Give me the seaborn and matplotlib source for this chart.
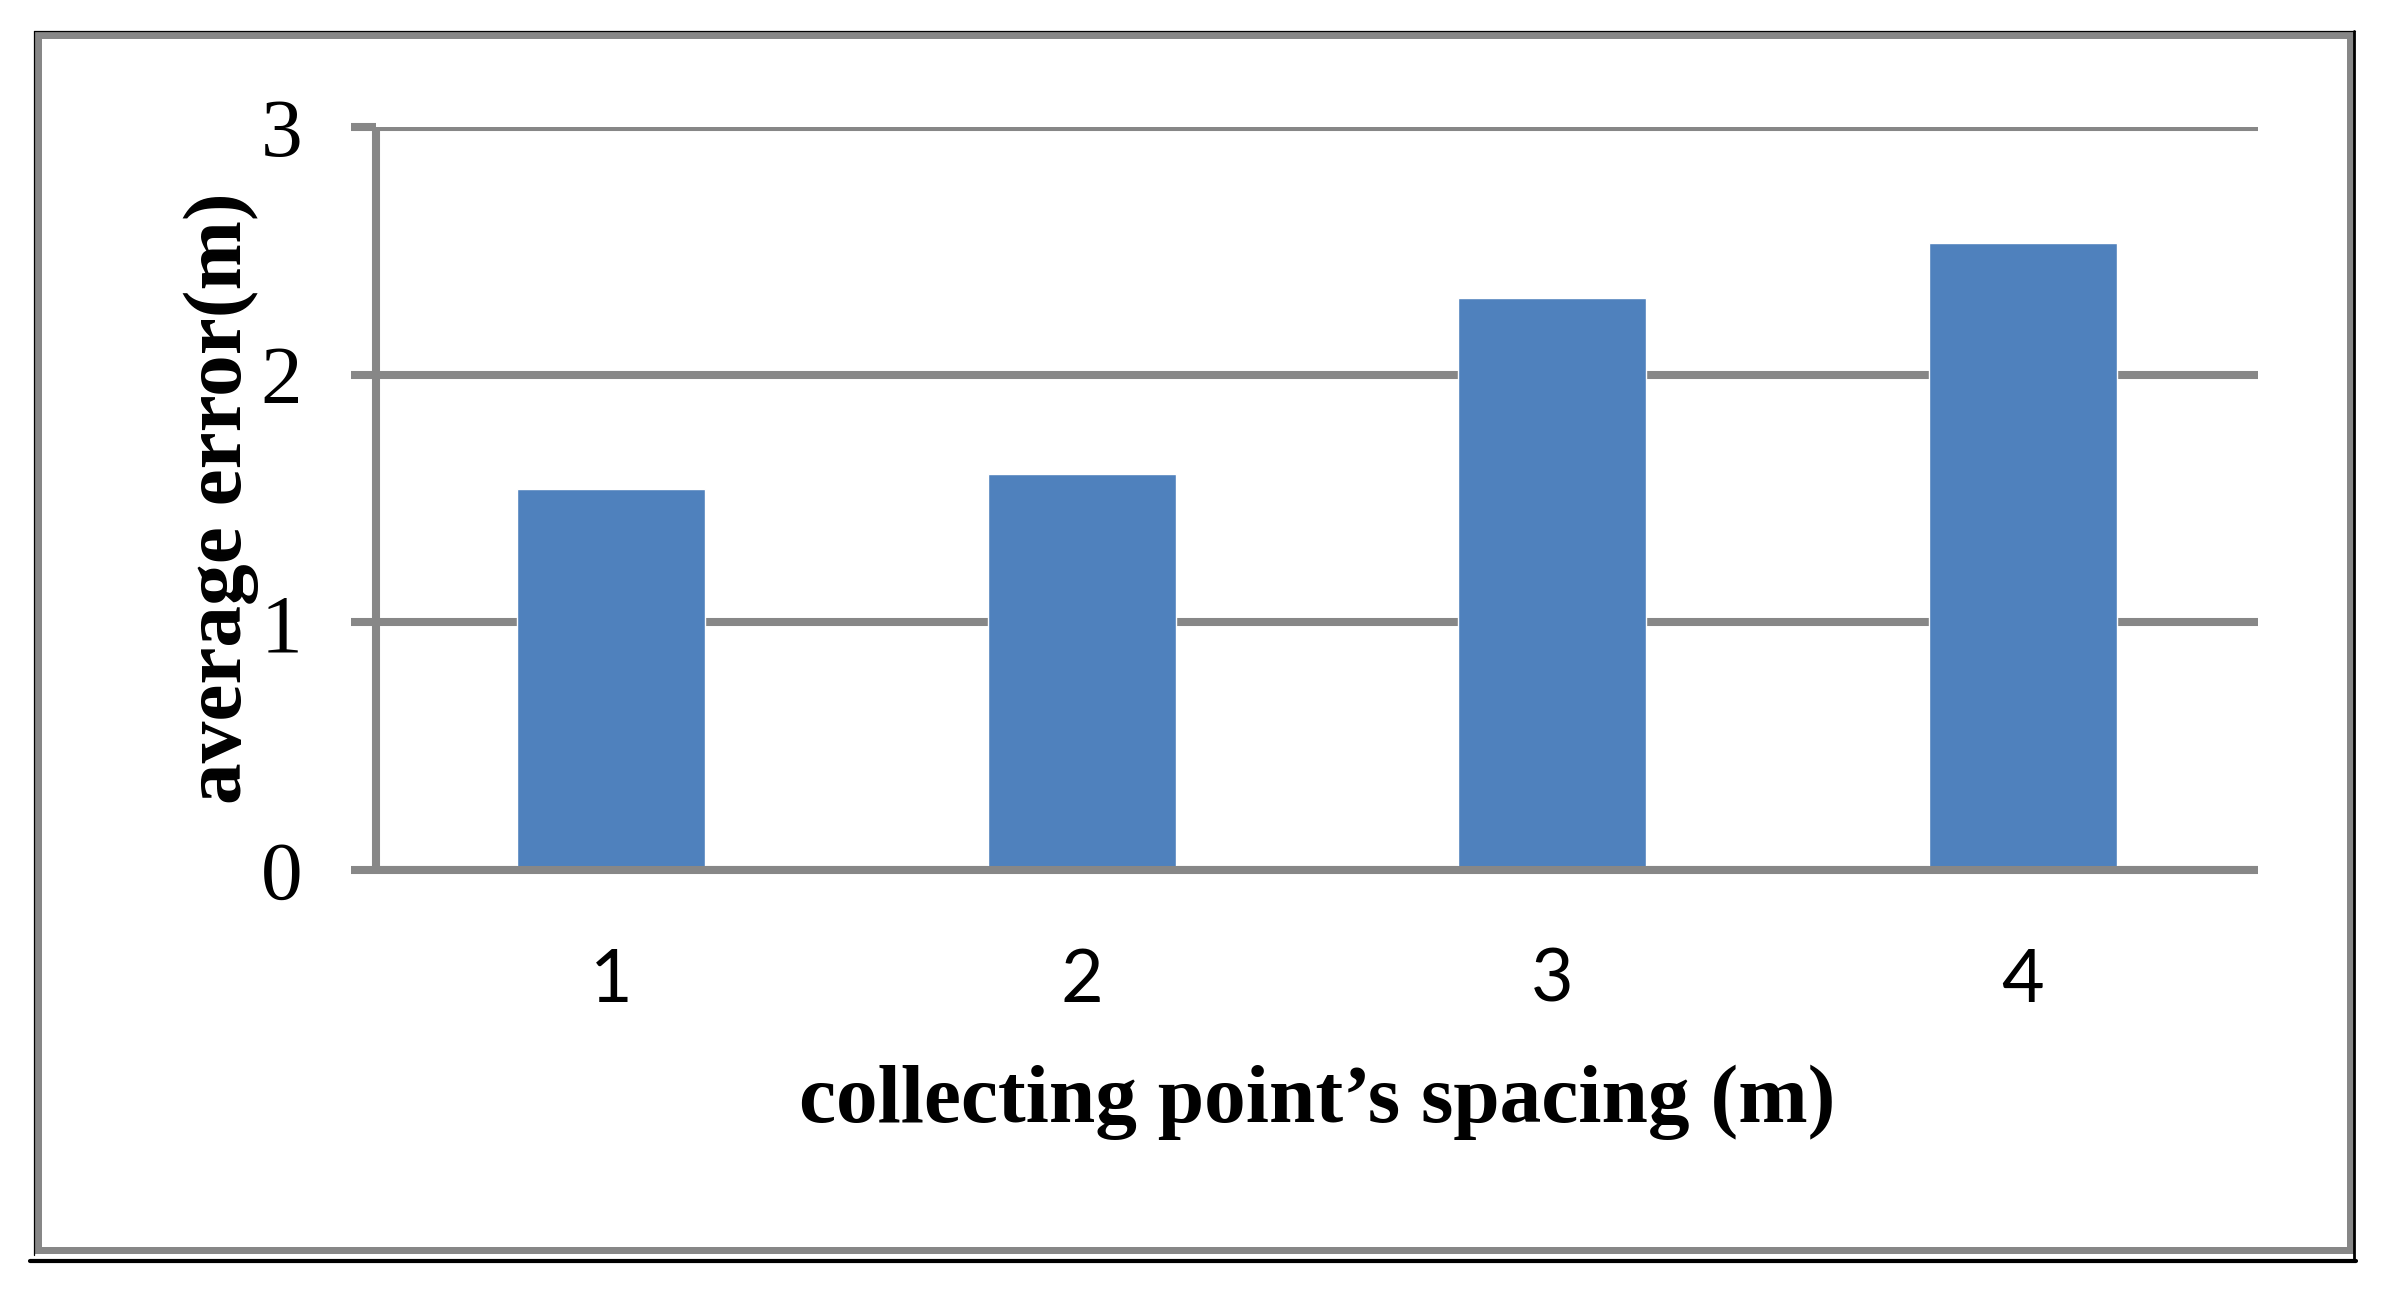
import matplotlib
matplotlib.use("Agg")
import matplotlib.pyplot as plt
import matplotlib.lines as mlines
import seaborn as sns

#data
spacing = ["1", "2", "3", "4"]
avg_error = [1.54, 1.60, 2.31, 2.53]
y_ticks = [0, 1, 2, 3]

bar_color = "#4F81BD"
grid_gray = "#878787"

sns.set_theme(style="white")
plt.rcParams['font.family'] = ['Liberation Serif', 'DejaVu Serif']

W, H = 2390, 1295
fig = plt.figure(figsize=(W / 100, H / 100), dpi=100)
ax = fig.add_axes([376 / W, 1 - 870 / H, 1882 / W, 743 / H])

sns.barplot(x=spacing, y=avg_error, color=bar_color, saturation=1, width=0.4, ax=ax, zorder=3)

ax.set_ylim(0, 3)
ax.set_yticks(y_ticks)
ax.yaxis.grid(True, color=grid_gray, linewidth=5.8, zorder=0)
ax.set_axisbelow(True)

#spines: only left and bottom, gray like the gridlines
for side in ["top", "right"]:
    ax.spines[side].set_visible(False)
for side in ["left", "bottom"]:
    ax.spines[side].set_color(grid_gray)
    ax.spines[side].set_linewidth(5.8)
    ax.spines[side].set_capstyle("butt")
    ax.spines[side].set_zorder(4)

ax.tick_params(axis="y", direction="out", length=18, width=5.8, color=grid_gray,
               pad=35, labelsize=60, labelcolor="black", left=True)
ax.tick_params(axis="x", length=0, pad=56, labelsize=53, labelcolor="black")
for lab in ax.get_xticklabels():
    lab.set_family(["Lato", "DejaVu Sans"])
for lab in ax.get_yticklabels():
    lab.set_family(["Liberation Serif", "DejaVu Serif"])

ax.set_xlabel("collecting point\u2019s spacing (m)", fontsize=60, fontweight="bold",
              color="black", va="center")
ax.set_ylabel("average error(m)", fontsize=60, fontweight="bold", color="black", va="center")
ax.xaxis.set_label_coords(0.5, -0.312)
ax.yaxis.set_label_coords(-0.0824, 0.5)

#chart frame: gray border with a thin black outline and a shadow line at the bottom
def fx(px):
    return px / W

def fy(py):
    return 1 - py / H

gray_lw = 7 * 72 / 100
x0, x1, y0, y1 = 38, 2350, 35, 1250
for xs, ys in [([x0, x1], [y0, y0]), ([x0, x1], [y1, y1]), ([x0, x0], [y0, y1]), ([x1, x1], [y0, y1])]:
    fig.add_artist(mlines.Line2D([fx(v) for v in xs], [fy(v) for v in ys], color=grid_gray,
                                 linewidth=gray_lw, solid_capstyle="projecting"))
fig.add_artist(mlines.Line2D([fx(34), fx(2355)], [fy(31), fy(31)], color="black", linewidth=0.9))
fig.add_artist(mlines.Line2D([fx(34), fx(34)], [fy(31), fy(1255)], color="black", linewidth=0.9))
fig.add_artist(mlines.Line2D([fx(2354), fx(2354)], [fy(31), fy(1261)], color="black", linewidth=2))
fig.add_artist(mlines.Line2D([fx(30), fx(2356)], [fy(1261), fy(1261)], color="black", linewidth=3))

fig.savefig("out.png", dpi=100)
